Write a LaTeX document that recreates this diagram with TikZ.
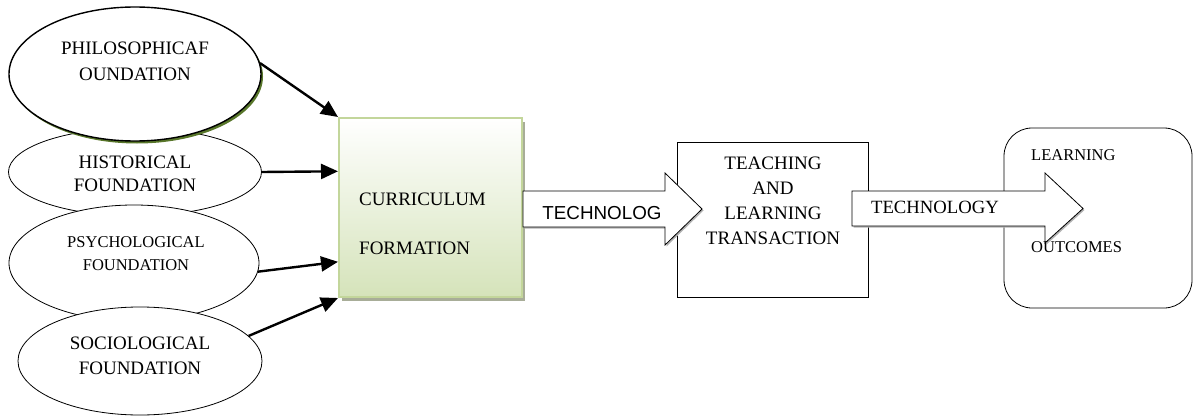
\documentclass[tikz,border=0pt]{standalone}
\usepackage{fontspec}
\setmainfont{Liberation Serif}
\newfontfamily\arialfont{Liberation Sans}
\usepackage{tikz}
\usetikzlibrary{calc}
\usetikzlibrary{arrows.meta}
\usetikzlibrary{shapes.geometric}
\usetikzlibrary{shadows}
\definecolor{oliveshade}{RGB}{88,118,42}
\definecolor{currline}{RGB}{195,214,155}
\definecolor{currfill}{RGB}{213,227,186}
\definecolor{currshade}{RGB}{168,173,152}
\newcommand{\fs}[2]{\fontsize{#1}{#2}\selectfont}
\tikzset{found/.style={ellipse,draw=black,fill=white,line width=0.8pt,inner sep=0pt}}
\tikzset{ftxt/.style={inner sep=0pt,align=center,font=\fs{19}{25}}}
\tikzset{feed/.style={line width=2.4pt,-{Triangle[length=17pt,width=15pt]}}}
\tikzset{blk/.style={draw=black,fill=white,line width=0.8pt,drop shadow={shadow xshift=1.5pt,shadow yshift=-1.5pt,fill=black!30,opacity=1}}}

\begin{document}
\begin{tikzpicture}[x=1pt,y=-1pt]
\useasboundingbox (0,0) rectangle (1193,417);

\node[found,minimum width=253pt,minimum height=88pt] (hist) at (135,172) {};
\node[found,minimum width=250pt,minimum height=116pt] (psych) at (134,263) {};
\node[found,minimum width=244pt,minimum height=108pt] (socio) at (140,361) {};
\node[found,line width=1.4pt,minimum width=252pt,minimum height=134pt,
  drop shadow={shadow xshift=2pt,shadow yshift=-2.5pt,fill=oliveshade,opacity=1}] (philo) at (135,74) {};

\node[ftxt,font=\fs{19}{26}] (philotxt) at (135,61) {PHILOSOPHICAF\\OUNDATION};
\node[ftxt,font=\fs{19}{23}] (histtxt) at (135,173.5) {HISTORICAL\\FOUNDATION};
\node[ftxt,font=\fs{16.5}{23}] (psychtxt) at (136,253.5) {PSYCHOLOGICAL\\FOUNDATION};
\node[ftxt] (sociotxt) at (140,355.5) {SOCIOLOGICAL\\FOUNDATION};

\node[draw=currline,line width=2pt,top color=white,bottom color=currfill,
  drop shadow={shadow xshift=3pt,shadow yshift=-4pt,fill=currshade,opacity=1},
  minimum width=183pt,minimum height=179pt] (curr) at (430.5,207.5) {};
\node[anchor=west,align=left,inner sep=0pt,font=\fs{19}{49}] (currtxt) at (359,223.5) {CURRICULUM\\FORMATION};

\foreach \a/\t in {philo.5/0, hist.east/0.3, psych.-4/0.8, socio.13/1}
  {
 \draw[feed] (\a) -- ($(curr.north west)!\t!(curr.south west)$);
 }

\node[draw,line width=0.8pt,minimum width=191pt,minimum height=155pt] (teach) at (772.5,219.5) {};
\node[draw,line width=0.8pt,rounded corners=28pt,minimum width=188pt,minimum height=180pt] (outc) at (1098,218) {};

\draw[blk] (curr.east |- 0,191) -- (665,191) -- (665,173) -- (702,209) -- (665,245) -- (665,227) -- (curr.east |- 0,227) -- cycle;
\draw[blk] (852,191) -- (1045,191) -- (1045,173) -- (1083,208.5) -- (1045,243) -- (1045,226) -- (852,226) -- cycle;

\node[inner sep=0pt,font=\arialfont\fs{18.8}{22}] (tech1) at (602,213) {TECHNOLOG};
\node[inner sep=0pt,font=\fs{18.7}{22}] (tech2) at (935,207) {TECHNOLOGY};

\node[ftxt] (teachtxt) at (773,200.5) {TEACHING\\AND\\LEARNING\\TRANSACTION};
\node[anchor=west,inner sep=0pt,font=\fs{16.5}{19}] (learntxt) at (1031,155) {LEARNING};
\node[anchor=west,inner sep=0pt,font=\fs{16.5}{19}] (outctxt) at (1031,247) {OUTCOMES};

\end{tikzpicture}
\end{document}
